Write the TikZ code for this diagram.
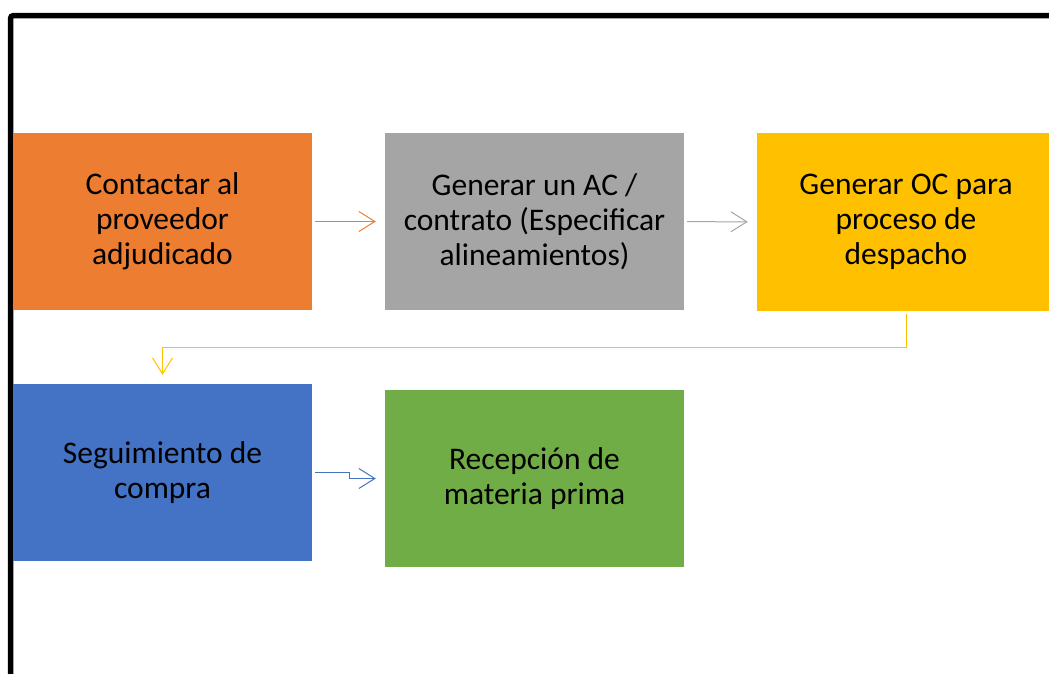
\documentclass[tikz,border=0pt]{standalone}
\usepackage{fontspec}
\setmainfont{Carlito}
\usepackage{xcolor}
\usetikzlibrary{arrows.meta}
\definecolor{naranja}{HTML}{ED7D31}
\definecolor{gris}{HTML}{A5A5A5}
\definecolor{amarillo}{HTML}{FFC000}
\definecolor{azul}{HTML}{4472C4}
\definecolor{verde}{HTML}{70AD47}

\begin{document}
\begin{tikzpicture}[x=1pt,y=-1pt,
    caja/.style={minimum width=299pt,minimum height=177pt,inner sep=0pt,
        align=center,font=\fontsize{31.5}{35}\selectfont},
    flecha/.style={line width=1pt,shorten <=3pt,shorten >=9pt,
        -{Straight Barb[length=16pt,width=20pt]}}]
    \useasboundingbox (0,0) rectangle (1049,673);
    \clip (0,0) rectangle (1049,673);
    % Marco
    \draw[line width=5.5pt,rounded corners=3pt] (10.5,680) -- (10.5,15.5) -- (1060,15.5);

    % Cajas
    \node[caja,fill=naranja] (contactar) at (162.5,221.5) {Contactar al\\proveedor\\adjudicado};
    \node[caja,fill=gris] (generar) at (534.5,221.5) {Generar un AC /\\contrato (Especificar\\alineamientos)};
    \node[caja,fill=amarillo,minimum width=298pt,minimum height=178pt] (ordenOC) at (906,222) {Generar OC para\\proceso de\\despacho};
    \node[caja,fill=azul] (seguimiento) at (162.5,472.5) {Seguimiento de\\compra};
    \node[caja,fill=verde] (recepcion) at (534.5,478.5) {Recepción de\\materia prima};

    % Flechas
    \draw[flecha,naranja] (contactar) -- (generar);
    \draw[flecha,gris] (generar) -- (ordenOC);
    \draw[flecha,amarillo] (ordenOC.south) -- ++(0,36) -| (seguimiento.north);
    \draw[flecha,azul] (seguimiento.east) -- ++(37,0) |- (recepcion.west);
\end{tikzpicture}
\end{document}
